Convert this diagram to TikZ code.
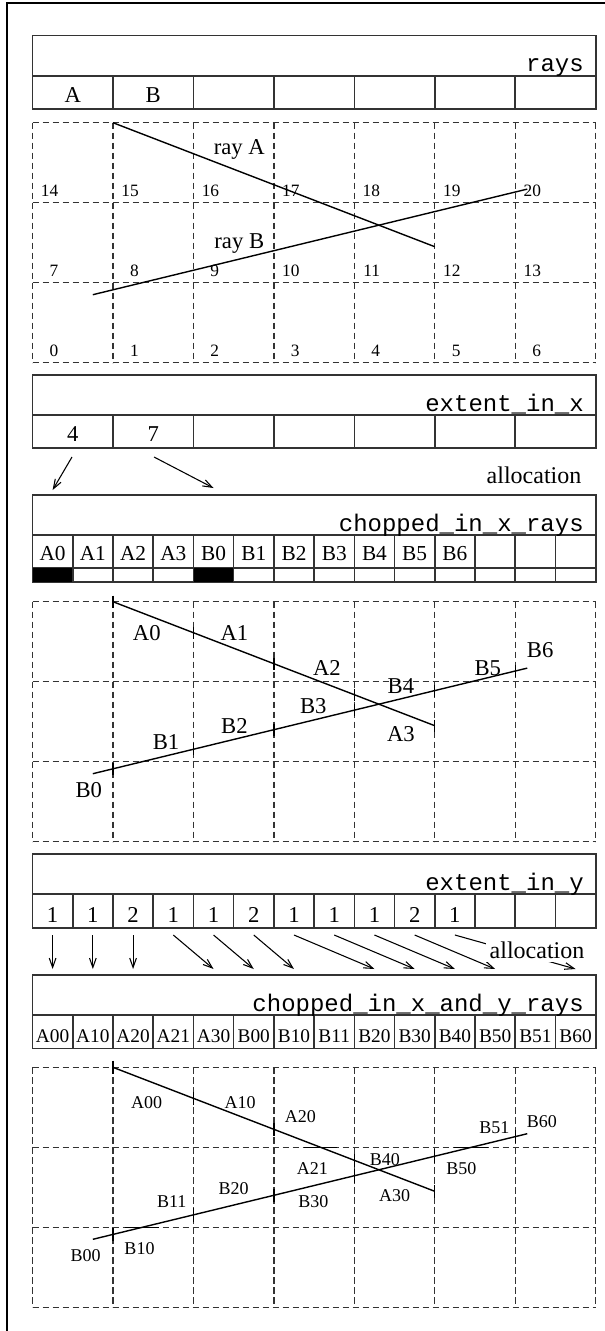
\documentclass[tikz,border=0pt]{standalone}
\usepackage{fontspec}
\setmainfont{Liberation Serif}
\setmonofont{Liberation Mono}
\usetikzlibrary{arrows.meta,calc}
\tikzset{
  frameline/.style={draw=black, line width=1.5pt},
  boxline/.style={draw=black!80, line width=1.2pt},
  gridline/.style={draw=black!80, line width=1pt, dash pattern=on 4.8pt off 2.7pt},
  rayline/.style={draw=black, line width=1.05pt},
  raytick/.style={draw=black, line width=1.05pt},
  alloc/.style={draw=black, line width=0.8pt, -{Straight Barb[length=7pt,width=5pt]}},
  hdr/.style={anchor=base east, inner sep=0pt, font=\ttfamily\fontsize{18}{20}\selectfont},
  bigcell/.style={anchor=base, inner sep=0pt, font=\fontsize{17}{20}\selectfont},
  midcell/.style={anchor=base, inner sep=0pt, font=\fontsize{16}{19}\selectfont},
  smallcell/.style={anchor=base, inner sep=0pt, font=\fontsize{14.5}{17}\selectfont},
  numlab/.style={anchor=base east, inner sep=0pt, font=\fontsize{13}{15}\selectfont},
  raylab/.style={inner sep=0pt, font=\fontsize{17}{20}\selectfont},
  seglab/.style={inner sep=0pt, font=\fontsize{17}{20}\selectfont},
  subseglab/.style={inner sep=0pt, font=\fontsize{13.5}{16}\selectfont},
  alloclab/.style={inner sep=3pt, fill=white, font=\fontsize{18}{21}\selectfont}
}
\begin{document}
\begin{tikzpicture}[x=0.75pt,y=-0.75pt]
\useasboundingbox (0,0) rectangle (605,1331);
% outer frame
\draw[frameline] (7,1331) -- (7,3) -- (605,3);

% ---------------- rays box ----------------
\draw[boxline] (32.5,35.7) rectangle (595.7,76);
\draw[boxline] (32.5,76) rectangle (595.7,108.7);
\foreach \i in {1,...,6} \draw[boxline] ({32.5+\i*80.45},76) -- ({32.5+\i*80.45},108.7);
\node[hdr] (hrays) at (584,72) {rays};
\node[bigcell] (rA) at ({32.5+0.5*80.45},102.7) {A};
\node[bigcell] (rB) at ({32.5+1.5*80.45},102.7) {B};

% ---------------- grid 1 ----------------
\begin{scope}[shift={(32.5,122.7)}, x=60.3375pt, y=-60pt]
  \foreach \c in {0,...,7} \draw[gridline] (\c,0) -- (\c,3);
  \foreach \r in {0,...,3} \draw[gridline] (0,\r) -- (7,\r);
  \foreach \r in {0,1,2} \foreach \c in {0,...,6} {
    \pgfmathtruncatemacro\n{(2-\r)*7+\c}
    \node[numlab] (num\n) at ({\c+0.323},{\r+1-0.075}) {\n};
  }
  \coordinate (ga1) at (1,0);    \coordinate (ga2) at (5,1.55);
  \coordinate (gb1) at (0.75,2.15); \coordinate (gb2) at (6.15,0.83);
  \draw[rayline] (ga1) -- (ga2);
  \draw[rayline] (gb1) -- (gb2);
  \node[raylab] (lrayA) at (2.57,0.34) {ray A};
  \node[raylab] (lrayB) at (2.57,1.51) {ray B};
\end{scope}

% ---------------- extent_in_x ----------------
\draw[boxline] (32.5,375) rectangle (595.7,415);
\draw[boxline] (32.5,415) rectangle (595.7,448);
\foreach \i in {1,...,6} \draw[boxline] ({32.5+\i*80.45},415) -- ({32.5+\i*80.45},448);
\node[hdr] (hex) at (584,411) {extent\_in\_x};
\node[bigcell] (ex0) at ({32.5+0.5*80.45},441.7) {4};
\node[bigcell] (ex1) at ({32.5+1.5*80.45},441.7) {7};

\coordinate (xs0) at (72,457);  \coordinate (xt0) at ({32.5+0.5*40.229},490);
\coordinate (xs1) at (154,457); \coordinate (xt4) at ({32.5+4.5*40.229},488);
\draw[alloc] (xs0) -- (xt0);
\draw[alloc] (xs1) -- (xt4);
\node[alloclab] (alloc1) at (534,475) {allocation};

% ---------------- chopped_in_x_rays ----------------
\draw[boxline] (32.5,495) rectangle (595.7,535);
\draw[boxline] (32.5,535) rectangle (595.7,568);
\draw[boxline] (32.5,568) rectangle (595.7,582);
\fill[black] (32.5,568) rectangle ({32.5+40.229},582);
\fill[black] ({32.5+4*40.229},568) rectangle ({32.5+5*40.229},582);
\foreach \i in {1,...,13} \draw[boxline] ({32.5+\i*40.229},535) -- ({32.5+\i*40.229},582);
\node[hdr] (hcx) at (584,531) {chopped\_in\_x\_rays};
\foreach \t [count=\k from 0] in {A0,A1,A2,A3,B0,B1,B2,B3,B4,B5,B6}
  \node[midcell] (cx\k) at ({32.5+(\k+0.5)*40.229},560.5) {\t};

% ---------------- grid 2 ----------------
\begin{scope}[shift={(32.5,601.7)}, x=60.3375pt, y=-60pt]
  \foreach \c in {0,...,7} \draw[gridline] (\c,0) -- (\c,3);
  \foreach \r in {0,...,3} \draw[gridline] (0,\r) -- (7,\r);
  \coordinate (ha1) at (1,0);    \coordinate (ha2) at (5,1.55);
  \coordinate (hb1) at (0.75,2.15); \coordinate (hb2) at (6.15,0.83);
  \draw[rayline] (ha1) -- (ha2);
  \draw[rayline] (hb1) -- (hb2);
  \foreach \k in {1,...,5}
    \draw[raytick] ($(ha1)!{(\k-1)/4}!(ha2)$) ++(0,-0.075) -- ++(0,0.15);
  \foreach \k in {1,...,6}
    \draw[raytick] ($(hb1)!{(\k-0.75)/5.4}!(hb2)$) ++(0,-0.075) -- ++(0,0.15);
  \node[seglab] (sA0) at (1.42,0.39) {A0};
  \node[seglab] (sA1) at (2.51,0.39) {A1};
  \node[seglab] (sA2) at (3.66,0.83) {A2};
  \node[seglab] (sA3) at (4.58,1.66) {A3};
  \node[seglab] (sB0) at (0.70,2.35) {B0};
  \node[seglab] (sB1) at (1.66,1.75) {B1};
  \node[seglab] (sB2) at (2.51,1.56) {B2};
  \node[seglab] (sB3) at (3.49,1.31) {B3};
  \node[seglab] (sB4) at (4.58,1.06) {B4};
  \node[seglab] (sB5) at (5.66,0.83) {B5};
  \node[seglab] (sB6) at (6.31,0.60) {B6};
\end{scope}

% ---------------- extent_in_y ----------------
\draw[boxline] (32.5,854) rectangle (595.7,894);
\draw[boxline] (32.5,894) rectangle (595.7,928);
\foreach \i in {1,...,13} \draw[boxline] ({32.5+\i*40.229},894) -- ({32.5+\i*40.229},928);
\node[hdr] (hey) at (584,890) {extent\_in\_y};
\foreach \t [count=\k from 0] in {1,1,2,1,1,2,1,1,1,2,1}
  \node[bigcell] (ey\k) at ({32.5+(\k+0.5)*40.229},922) {\t};

\foreach \s/\t in {0/0,1/1,2/2,3/4,4/5,5/6,6/8,7/9,8/10,9/11,10/13} {
  \coordinate (ys\s) at ({32.5+(\s+0.5)*40.229},935);
  \coordinate (yt\t) at ({32.5+(\t+0.5)*40.229},969);
  \draw[alloc] (ys\s) -- (yt\t);
}
\node[alloclab] (alloc2) at (537,950) {allocation};

% ---------------- chopped_in_x_and_y_rays ----------------
\draw[boxline] (32.5,975) rectangle (595.7,1015);
\draw[boxline] (32.5,1015) rectangle (595.7,1048.3);
\foreach \i in {1,...,13} \draw[boxline] ({32.5+\i*40.229},1015) -- ({32.5+\i*40.229},1048.3);
\node[hdr] (hcxy) at (584,1011) {chopped\_in\_x\_and\_y\_rays};
\foreach \t [count=\k from 0] in {A00,A10,A20,A21,A30,B00,B10,B11,B20,B30,B40,B50,B51,B60}
  \node[smallcell] (cxy\k) at ({32.5+(\k+0.5)*40.229},1042.5) {\t};

% ---------------- grid 3 ----------------
\begin{scope}[shift={(32.5,1067.3)}, x=60.3375pt, y=-60pt]
  \foreach \c in {0,...,7} \draw[gridline] (\c,0) -- (\c,3);
  \foreach \r in {0,...,3} \draw[gridline] (0,\r) -- (7,\r);
  \coordinate (ka1) at (1,0);    \coordinate (ka2) at (5,1.55);
  \coordinate (kb1) at (0.75,2.15); \coordinate (kb2) at (6.15,0.83);
  \draw[rayline] (ka1) -- (ka2);
  \draw[rayline] (kb1) -- (kb2);
  \foreach \k in {1,...,5}
    \draw[raytick] ($(ka1)!{(\k-1)/4}!(ka2)$) ++(0,-0.085) -- ++(0,0.17);
  \foreach \k in {1,...,6}
    \draw[raytick] ($(kb1)!{(\k-0.75)/5.4}!(kb2)$) ++(0,-0.085) -- ++(0,0.17);
  \draw[raytick] ($(ka1)!0.64516!(ka2)$) ++(-0.21,0) -- ++(0.42,0);
  \draw[raytick] ($(kb1)!0.11364!(kb2)$) ++(-0.21,0) -- ++(0.42,0);
  \draw[raytick] ($(kb1)!0.87121!(kb2)$) ++(-0.21,0) -- ++(0.42,0);
  \node[subseglab] (tA00) at (1.42,0.44) {A00};
  \node[subseglab] (tA10) at (2.58,0.44) {A10};
  \node[subseglab] (tA20) at (3.33,0.61) {A20};
  \node[subseglab] (tA21) at (3.48,1.26) {A21};
  \node[subseglab] (tA30) at (4.50,1.60) {A30};
  \node[subseglab] (tB00) at (0.66,2.35) {B00};
  \node[subseglab] (tB10) at (1.33,2.26) {B10};
  \node[subseglab] (tB11) at (1.73,1.68) {B11};
  \node[subseglab] (tB20) at (2.50,1.51) {B20};
  \node[subseglab] (tB30) at (3.49,1.68) {B30};
  \node[subseglab] (tB40) at (4.38,1.15) {B40};
  \node[subseglab] (tB50) at (5.33,1.26) {B50};
  \node[subseglab] (tB51) at (5.74,0.76) {B51};
  \node[subseglab] (tB60) at (6.33,0.68) {B60};
\end{scope}
\end{tikzpicture}
\end{document}
